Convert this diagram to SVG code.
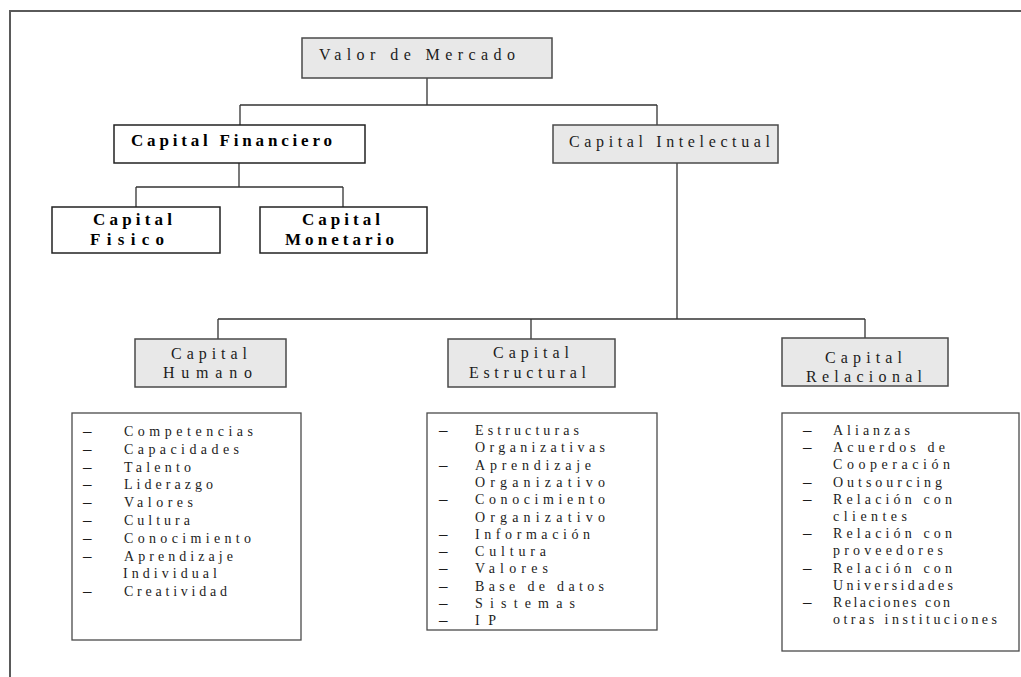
<svg xmlns="http://www.w3.org/2000/svg" width="1021" height="677" viewBox="0 0 1021 677">
  <style>
    .frame { fill: none; stroke: #5a5a5a; stroke-width: 2; }
    .box-gray { fill: #e8e8e8; stroke: #4a4a4a; stroke-width: 1.5; }
    .box-white { fill: #ffffff; stroke: #222222; stroke-width: 1.5; }
    .box-list { fill: #ffffff; stroke: #4a4a4a; stroke-width: 1.3; }
    .wire { fill: none; stroke: #333333; stroke-width: 1.3; }
    .lbl { font-family: "Liberation Serif", "Times New Roman", serif; font-size: 16px; fill: #1c1c1c; }
    .lbl-bold { font-family: "Liberation Serif", "Times New Roman", serif; font-size: 17px; font-weight: bold; fill: #000000; }
    .item { font-family: "Liberation Serif", "Times New Roman", serif; font-size: 14px; fill: #1c1c1c; }
    .dash { font-family: "Liberation Serif", "Times New Roman", serif; font-size: 17px; fill: #1c1c1c; }
  </style>

  <rect width="1021" height="677" fill="#ffffff"/>
  <!-- page frame: only the top and left edges fall inside the view -->
  <path class="frame" d="M10,677 V11 H1021"/>

  <!-- connectors -->
  <g id="connectors">
    <path class="wire" d="M427,78 V105 M240,105 H657 M240,105 V125 M657,105 V125"/>
    <path class="wire" d="M239,163 V187 M136,187 H343 M136,187 V207 M343,187 V207"/>
    <path class="wire" d="M677,163 V319 M218,319 H865 M218,319 V339 M531,319 V339 M865,319 V338"/>
  </g>

  <g id="valor-mercado">
    <rect class="box-gray" x="302" y="38" width="250" height="40"/>
    <text class="lbl" x="319" y="60" font-size="17" textLength="196" lengthAdjust="spacing">Valor de Mercado</text>
  </g>

  <g id="capital-financiero">
    <rect class="box-white" x="114" y="125" width="251" height="38"/>
    <text class="lbl-bold" x="131" y="146" textLength="201" lengthAdjust="spacing">Capital Financiero</text>
  </g>

  <g id="capital-intelectual">
    <rect class="box-gray" x="553" y="125" width="225" height="38"/>
    <text class="lbl" x="569" y="147" font-size="17" textLength="201" lengthAdjust="spacing">Capital Intelectual</text>
  </g>

  <g id="capital-fisico">
    <rect class="box-white" x="52" y="207" width="168" height="46"/>
    <text class="lbl-bold" x="93" y="225" textLength="79" lengthAdjust="spacing">Capital</text>
    <text class="lbl-bold" x="90" y="245" textLength="74" lengthAdjust="spacing">Fisico</text>
  </g>

  <g id="capital-monetario">
    <rect class="box-white" x="260" y="207" width="167" height="46"/>
    <text class="lbl-bold" x="302" y="225" textLength="78" lengthAdjust="spacing">Capital</text>
    <text class="lbl-bold" x="285" y="245" textLength="109" lengthAdjust="spacing">Monetario</text>
  </g>

  <g id="capital-humano">
    <rect class="box-gray" x="135" y="339" width="151" height="48"/>
    <text class="lbl" x="171" y="359" textLength="76" lengthAdjust="spacing">Capital</text>
    <text class="lbl" x="163" y="378" textLength="89" lengthAdjust="spacing">Humano</text>
  </g>

  <g id="capital-estructural">
    <rect class="box-gray" x="448" y="339" width="167" height="48"/>
    <text class="lbl" x="493" y="358" textLength="76" lengthAdjust="spacing">Capital</text>
    <text class="lbl" x="469" y="378" textLength="117" lengthAdjust="spacing">Estructural</text>
  </g>

  <g id="capital-relacional">
    <rect class="box-gray" x="782" y="338" width="166" height="48"/>
    <text class="lbl" x="825" y="363" textLength="77" lengthAdjust="spacing">Capital</text>
    <text class="lbl" x="806" y="382" textLength="116" lengthAdjust="spacing">Relacional</text>
  </g>

  <g id="lista-humano">
    <rect class="box-list" x="72" y="413" width="229" height="227"/>
    <g class="dash">
      <text x="83" y="436">–</text>
      <text x="83" y="453.8">–</text>
      <text x="83" y="471.6">–</text>
      <text x="83" y="489.4">–</text>
      <text x="83" y="507.2">–</text>
      <text x="83" y="525">–</text>
      <text x="83" y="542.8">–</text>
      <text x="83" y="560.6">–</text>
      <text x="83" y="596.2">–</text>
    </g>
    <g class="item">
      <text x="124" y="436" textLength="129" lengthAdjust="spacing">Competencias</text>
      <text x="124" y="453.8" textLength="115" lengthAdjust="spacing">Capacidades</text>
      <text x="124" y="471.6" textLength="67" lengthAdjust="spacing">Talento</text>
      <text x="124" y="489.4" textLength="89" lengthAdjust="spacing">Liderazgo</text>
      <text x="124" y="507.2" textLength="69" lengthAdjust="spacing">Valores</text>
      <text x="124" y="525" textLength="66" lengthAdjust="spacing">Cultura</text>
      <text x="124" y="542.8" textLength="127" lengthAdjust="spacing">Conocimiento</text>
      <text x="124" y="560.6" textLength="109" lengthAdjust="spacing">Aprendizaje</text>
      <text x="123" y="578.4" textLength="94" lengthAdjust="spacing">Individual</text>
      <text x="124" y="596.2" textLength="103" lengthAdjust="spacing">Creatividad</text>
    </g>
  </g>

  <g id="lista-estructural">
    <rect class="box-list" x="427" y="413" width="230" height="217"/>
    <g class="dash">
      <text x="439" y="435">–</text>
      <text x="439" y="469.6">–</text>
      <text x="439" y="504.2">–</text>
      <text x="439" y="538.8">–</text>
      <text x="439" y="556.1">–</text>
      <text x="439" y="573.4">–</text>
      <text x="439" y="590.7">–</text>
      <text x="439" y="608">–</text>
      <text x="439" y="625.3">–</text>
    </g>
    <g class="item">
      <text x="475" y="435" textLength="104" lengthAdjust="spacing">Estructuras</text>
      <text x="475" y="452.3" textLength="130" lengthAdjust="spacing">Organizativas</text>
      <text x="475" y="469.6" textLength="116" lengthAdjust="spacing">Aprendizaje</text>
      <text x="475" y="486.9" textLength="130" lengthAdjust="spacing">Organizativo</text>
      <text x="475" y="504.2" textLength="130" lengthAdjust="spacing">Conocimiento</text>
      <text x="475" y="521.5" textLength="130" lengthAdjust="spacing">Organizativo</text>
      <text x="475" y="538.8" textLength="115" lengthAdjust="spacing">Información</text>
      <text x="475" y="556.1" textLength="71" lengthAdjust="spacing">Cultura</text>
      <text x="475" y="573.4" textLength="73" lengthAdjust="spacing">Valores</text>
      <text x="475" y="590.7" textLength="129" lengthAdjust="spacing">Base de datos</text>
      <text x="475" y="608" textLength="100" lengthAdjust="spacing">Sistemas</text>
      <text x="475" y="625.3" textLength="21" lengthAdjust="spacing">IP</text>
    </g>
  </g>

  <g id="lista-relacional">
    <rect class="box-list" x="782" y="413" width="237" height="238"/>
    <g class="dash">
      <text x="803" y="435">–</text>
      <text x="803" y="452.2">–</text>
      <text x="803" y="486.6">–</text>
      <text x="803" y="503.8">–</text>
      <text x="803" y="538.2">–</text>
      <text x="803" y="572.6">–</text>
      <text x="803" y="607">–</text>
    </g>
    <g class="item">
      <text x="833" y="435" textLength="77" lengthAdjust="spacing">Alianzas</text>
      <text x="833" y="452.2" textLength="112" lengthAdjust="spacing">Acuerdos de</text>
      <text x="833" y="469.4" textLength="117" lengthAdjust="spacing">Cooperación</text>
      <text x="833" y="486.6" textLength="109" lengthAdjust="spacing">Outsourcing</text>
      <text x="833" y="503.8" textLength="119" lengthAdjust="spacing">Relación con</text>
      <text x="833" y="521" textLength="74" lengthAdjust="spacing">clientes</text>
      <text x="833" y="538.2" textLength="119" lengthAdjust="spacing">Relación con</text>
      <text x="833" y="555.4" textLength="110" lengthAdjust="spacing">proveedores</text>
      <text x="833" y="572.6" textLength="119" lengthAdjust="spacing">Relación con</text>
      <text x="833" y="589.8" textLength="120" lengthAdjust="spacing">Universidades</text>
      <text x="833" y="607" textLength="117" lengthAdjust="spacing">Relaciones con</text>
      <text x="833" y="624.2" textLength="164" lengthAdjust="spacing">otras instituciones</text>
    </g>
  </g>
</svg>
